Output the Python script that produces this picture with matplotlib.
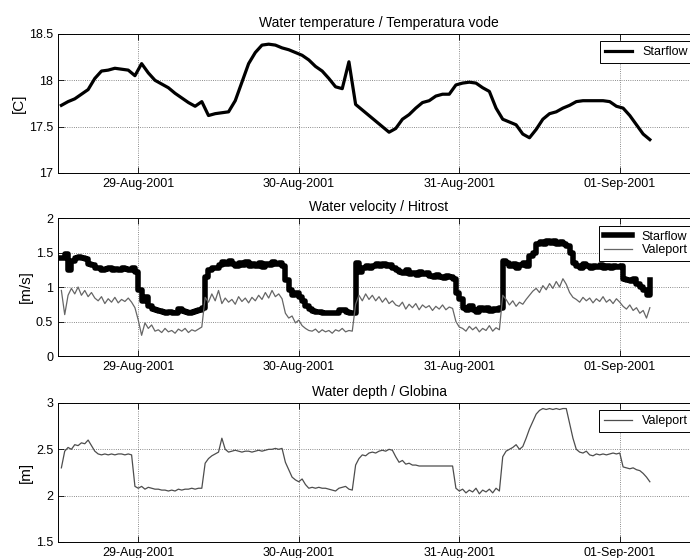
import matplotlib
matplotlib.use('Agg')
import matplotlib.pyplot as plt
import matplotlib.dates as mdates
from matplotlib.ticker import FuncFormatter
import pandas as pd

plt.rcParams['font.family'] = ['Liberation Sans', 'DejaVu Sans']

# water temperature, Starflow, hourly from 28-Aug 12:30
temp_starflow = [17.73, 17.77, 17.80, 17.85, 17.90, 18.02, 18.10, 18.11, 18.13, 18.12,
                 18.11, 18.05, 18.18, 18.08, 18.00, 17.96, 17.92, 17.86, 17.81, 17.76,
                 17.72, 17.77, 17.62, 17.64, 17.65, 17.66, 17.78, 17.98, 18.18, 18.30,
                 18.38, 18.39, 18.38, 18.35, 18.33, 18.30, 18.27, 18.22, 18.15, 18.10,
                 18.02, 17.93, 17.91, 18.20, 17.74, 17.68, 17.62, 17.56, 17.50, 17.44,
                 17.48, 17.58, 17.63, 17.70, 17.76, 17.78, 17.83, 17.85, 17.85, 17.95,
                 17.97, 17.98, 17.97, 17.92, 17.88, 17.70, 17.58, 17.55, 17.52, 17.42,
                 17.38, 17.47, 17.58, 17.64, 17.66, 17.70, 17.73, 17.77, 17.78, 17.78,
                 17.78, 17.78, 17.77, 17.72, 17.70, 17.62, 17.52, 17.42, 17.36]

# water velocity, half-hourly from 28-Aug 12:30
vel_starflow = [1.42, 1.48, 1.25, 1.38, 1.42, 1.44, 1.42, 1.40, 1.34, 1.32, 1.28,
                1.27, 1.25, 1.26, 1.28, 1.25, 1.26, 1.24, 1.27, 1.26, 1.25, 1.27,
                1.22, 0.95, 0.80, 0.85, 0.72, 0.68, 0.66,
                0.65, 0.64, 0.63, 0.64, 0.62, 0.63, 0.68, 0.65, 0.64, 0.63, 0.64, 0.65, 0.66,
                0.70, 1.15, 1.25, 1.28, 1.27, 1.32, 1.36, 1.34, 1.38,
                1.33, 1.30, 1.35, 1.32, 1.36, 1.30, 1.33, 1.31, 1.35, 1.29, 1.33, 1.32,
                1.36, 1.33, 1.35, 1.30,
                1.10, 0.95, 0.88, 0.92, 0.85, 0.80, 0.73, 0.68,
                0.65, 0.64, 0.64, 0.63, 0.62, 0.63, 0.62, 0.63, 0.66, 0.67, 0.64, 0.63,
                0.62, 1.35, 1.22, 1.28, 1.30, 1.27,
                1.30, 1.33, 1.31, 1.34, 1.30, 1.32, 1.28,
                1.25,
                1.22, 1.20, 1.24, 1.19, 1.21, 1.18, 1.22, 1.19, 1.20,
                1.16, 1.14, 1.17, 1.15, 1.13, 1.16, 1.14, 1.12,
                0.92, 0.82,
                0.70, 0.66, 0.72, 0.67, 0.64, 0.69, 0.66, 0.70, 0.65, 0.68, 0.66, 0.70,
                1.38, 1.35,
                1.30, 1.33, 1.28, 1.32, 1.35, 1.30,
                1.45, 1.50,
                1.62, 1.65, 1.63, 1.67, 1.64, 1.66, 1.62, 1.65, 1.63, 1.60,
                1.50, 1.35,
                1.30, 1.28, 1.33, 1.30, 1.27, 1.31, 1.29, 1.32, 1.28, 1.30, 1.27, 1.31, 1.29, 1.30,
                1.12, 1.10, 1.08, 1.12, 1.05, 1.00, 0.95, 0.88, 1.10]

vel_valeport = [0.95, 0.60, 0.88, 0.98, 0.90, 1.00, 0.88, 0.95, 0.86, 0.92, 0.84,
                0.80, 0.86, 0.76, 0.83, 0.78, 0.85, 0.77, 0.82, 0.79, 0.84, 0.78,
                0.70, 0.52, 0.30, 0.48, 0.40, 0.45, 0.36,
                0.38, 0.34, 0.40, 0.35, 0.37, 0.33, 0.39, 0.36, 0.40, 0.34, 0.38, 0.36, 0.39,
                0.42, 0.85, 0.78, 0.90, 0.80, 0.95, 0.76, 0.84, 0.78,
                0.82, 0.75, 0.86, 0.79, 0.84, 0.77, 0.85, 0.80, 0.88, 0.82, 0.92, 0.84,
                0.95, 0.86, 0.90, 0.83,
                0.62, 0.55, 0.58, 0.48, 0.52, 0.44, 0.40, 0.37,
                0.36, 0.39, 0.34, 0.38, 0.35, 0.37, 0.33, 0.38, 0.36, 0.40, 0.35, 0.37,
                0.36, 0.75, 0.88, 0.80, 0.90, 0.82,
                0.88, 0.80, 0.86, 0.78, 0.84, 0.76, 0.80,
                0.74,
                0.72, 0.78, 0.68, 0.75, 0.70, 0.76, 0.67, 0.74, 0.70,
                0.73, 0.66, 0.72, 0.68, 0.74, 0.67, 0.71, 0.69,
                0.50, 0.42,
                0.40, 0.36, 0.43, 0.38, 0.42, 0.35, 0.40, 0.37, 0.44, 0.36, 0.41, 0.38,
                0.88, 0.82,
                0.74, 0.80, 0.72, 0.78, 0.75, 0.82,
                0.88, 0.94,
                0.98, 0.92, 1.02, 0.96, 1.05, 0.98, 1.08, 1.00, 1.12, 1.04,
                0.92, 0.85,
                0.82, 0.78, 0.85, 0.80, 0.84, 0.77, 0.83, 0.79, 0.86, 0.78, 0.82, 0.76, 0.83, 0.78,
                0.72, 0.68, 0.74, 0.66, 0.70, 0.62, 0.66, 0.55, 0.70]

# water depth, Valeport, half-hourly from 28-Aug 12:30
depth_valeport = [2.30, 2.48, 2.52, 2.50, 2.55, 2.54, 2.57, 2.56, 2.60, 2.54, 2.48,
                  2.45, 2.44, 2.45, 2.44, 2.45, 2.44, 2.45, 2.45, 2.44, 2.45, 2.44,
                  2.10, 2.08, 2.10, 2.07, 2.09, 2.08, 2.07,
                  2.07, 2.06, 2.06, 2.05, 2.06, 2.05, 2.07, 2.06, 2.07, 2.07, 2.08, 2.07, 2.08,
                  2.08, 2.35, 2.40, 2.43, 2.45, 2.47, 2.62, 2.50, 2.47,
                  2.48, 2.49, 2.48, 2.47, 2.48, 2.48, 2.47, 2.48, 2.49, 2.48, 2.49, 2.50,
                  2.50, 2.51, 2.50, 2.51,
                  2.36, 2.28, 2.20, 2.17, 2.15, 2.18, 2.12, 2.08,
                  2.09, 2.08, 2.09, 2.08, 2.08, 2.07, 2.06, 2.05, 2.08, 2.09, 2.10, 2.07,
                  2.06, 2.33, 2.40, 2.44, 2.43, 2.46,
                  2.47, 2.46, 2.48, 2.49, 2.48, 2.50, 2.49,
                  2.42,
                  2.36, 2.38, 2.34, 2.35, 2.33, 2.33, 2.32, 2.32, 2.32,
                  2.32, 2.32, 2.32, 2.32, 2.32, 2.32, 2.32, 2.32,
                  2.08, 2.05,
                  2.07, 2.03, 2.06, 2.04, 2.08, 2.02, 2.06, 2.04, 2.07, 2.03, 2.08, 2.05,
                  2.42, 2.48,
                  2.50, 2.52, 2.55, 2.50, 2.53, 2.62,
                  2.72, 2.80,
                  2.88, 2.92, 2.94, 2.93, 2.94, 2.93, 2.94, 2.93, 2.94, 2.94,
                  2.78, 2.62,
                  2.50, 2.47, 2.46, 2.48, 2.44, 2.43, 2.45, 2.44, 2.45, 2.44, 2.45, 2.46, 2.45, 2.46,
                  2.31, 2.30, 2.29, 2.30, 2.28, 2.27, 2.24, 2.20, 2.15]

t_hour = pd.date_range('2001-08-28 12:30', periods=len(temp_starflow), freq='1h')
t_half = pd.date_range('2001-08-28 12:30', periods=len(vel_starflow), freq='30min')
t_half_v = pd.date_range('2001-08-28 12:30', periods=len(vel_valeport), freq='30min')
t_half_d = pd.date_range('2001-08-28 12:30', periods=len(depth_valeport), freq='30min')

day_ticks = pd.date_range('2001-08-29', '2001-09-01', freq='D')
xmin = pd.Timestamp('2001-08-28 12:00')
xmax = pd.Timestamp('2001-09-01 12:00')

fig = plt.figure(figsize=(6.9, 5.58), dpi=100)
W = 0.9304
ax1 = fig.add_axes([0.0841, 0.6900, W, 0.2491])
ax2 = fig.add_axes([0.0841, 0.3620, W, 0.2473])
ax3 = fig.add_axes([0.0841, 0.0287, W, 0.2491])

ax1.plot(t_hour, temp_starflow, color='black', lw=2.3, label='Starflow')
ax2.plot(t_half, vel_starflow, color='black', lw=4, drawstyle='steps-post', label='Starflow')
ax2.plot(t_half_v, vel_valeport, color='0.4', lw=0.9, label='Valeport')
ax3.plot(t_half_d, depth_valeport, color='0.3', lw=0.9, label='Valeport')

setup = [
    (ax1, 'Water temperature / Temperatura vode', '[C]', (17, 18.5), [17, 17.5, 18, 18.5]),
    (ax2, 'Water velocity / Hitrost', '[m/s]', (0, 2), [0, 0.5, 1, 1.5, 2]),
    (ax3, 'Water depth / Globina', '[m]', (1.5, 3), [1.5, 2, 2.5, 3]),
]
for ax, title, ylabel, ylim, yticks in setup:
    ax.set_xlim(xmin, xmax)
    ax.set_ylim(*ylim)
    ax.set_yticks(yticks)
    ax.yaxis.set_major_formatter(FuncFormatter(lambda v, p: '%g' % v))
    ax.set_xticks(day_ticks)
    ax.xaxis.set_major_formatter(mdates.DateFormatter('%d-%b-%Y'))
    ax.tick_params(direction='in', top=True, right=True, labelsize=9, length=4, width=0.6)
    ax.grid(True, linestyle=':', color='0.4', lw=0.6)
    ax.set_title(title, fontsize=10, pad=5)
    ax.set_ylabel(ylabel, fontsize=11, labelpad=2)
    for s in ax.spines.values():
        s.set_linewidth(0.7)
    leg = ax.legend(loc='upper right', fontsize=9, fancybox=False, framealpha=1,
                    edgecolor='black', borderaxespad=0.6, handlelength=2.2,
                    borderpad=0.4, labelspacing=0.15)
    leg.get_frame().set_linewidth(0.7)

fig.savefig('out.png', dpi=100)
